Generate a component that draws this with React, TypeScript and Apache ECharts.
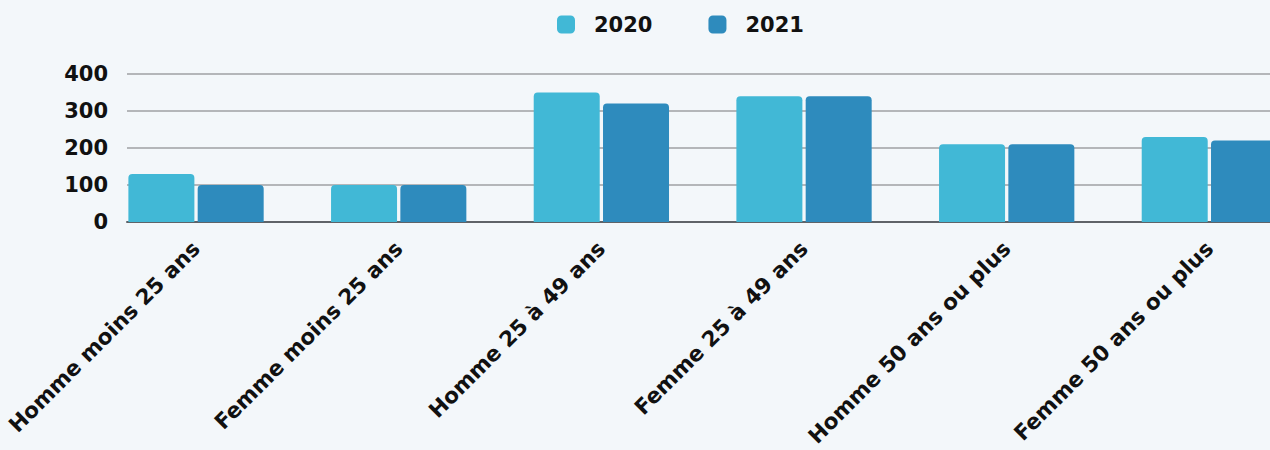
import React, { useEffect, useRef } from "react";
import * as echarts from "echarts";

const categories = [
  "Homme moins 25 ans",
  "Femme moins 25 ans",
  "Homme 25 à 49 ans",
  "Femme 25 à 49 ans",
  "Homme 50 ans ou plus",
  "Femme 50 ans ou plus",
];
const values2020 = [130, 100, 350, 340, 210, 230];
const values2021 = [100, 100, 320, 340, 210, 220];
const yTicks = [0, 100, 200, 300, 400];

const FONT = "DejaVu Sans";

export default function App() {
  const ref = useRef<HTMLDivElement>(null);
  useEffect(() => {
    if (!ref.current) return;
    const chart = echarts.init(ref.current, undefined, { renderer: "svg" });
    const top = 74;
    const bottom = 228;
    chart.setOption({
      animation: false,
      backgroundColor: "#f3f7fa",
      legend: {
        top: 9,
        left: 552,
        itemWidth: 18,
        itemHeight: 18,
        itemGap: 56,
        icon: "roundRect",
        data: ["2020", "2021"],
        textStyle: {
          fontFamily: FONT,
          fontWeight: "bold",
          fontSize: 21,
          color: "#111",
          padding: [0, 0, 0, 14],
        },
      },
      grid: [
        { left: 94.7, width: 1216, top, bottom, containLabel: false, outerBoundsMode: "none" },
        { left: 127, right: 0, top, bottom, containLabel: false, outerBoundsMode: "none" },
      ],
      xAxis: [
        {
          type: "category",
          gridIndex: 0,
          data: categories,
          axisLine: { show: false },
          axisTick: { show: false },
          axisLabel: {
            rotate: 45,
            interval: 0,
            margin: 23,
            fontFamily: FONT,
            fontWeight: "bold",
            fontSize: 21.5,
            color: "#111",
          },
        },
        {
          type: "category",
          gridIndex: 1,
          data: [""],
          axisLine: { show: true, lineStyle: { color: "#5f6368", width: 2 } },
          axisTick: { show: false },
          axisLabel: { show: false },
        },
      ],
      yAxis: [
        {
          type: "value",
          gridIndex: 0,
          min: 0,
          max: 400,
          interval: 100,
          axisLabel: { show: false },
          splitLine: { show: false },
          axisLine: { show: false },
        },
        {
          type: "value",
          gridIndex: 1,
          min: yTicks[0],
          max: yTicks[yTicks.length - 1],
          interval: 100,
          axisLine: { show: false },
          axisTick: { show: false },
          splitLine: { show: true, lineStyle: { color: "#b4b6b9", width: 2 } },
          axisLabel: {
            margin: 19,
            fontFamily: FONT,
            fontWeight: "bold",
            fontSize: 21,
            color: "#111",
          },
        },
      ],
      series: [
        {
          name: "2020",
          type: "bar",
          xAxisIndex: 0,
          yAxisIndex: 0,
          data: values2020,
          barWidth: 66,
          barGap: "5%",
          itemStyle: { color: "#41b8d6", borderRadius: [4, 4, 0, 0] },
          z: 3,
        },
        {
          name: "2021",
          type: "bar",
          xAxisIndex: 0,
          yAxisIndex: 0,
          data: values2021,
          barWidth: 66,
          barGap: "5%",
          itemStyle: { color: "#2e8bbd", borderRadius: [4, 4, 0, 0] },
          z: 3,
        },
      ],
    });
    return () => chart.dispose();
  }, []);
  return (
    <div
      ref={ref}
      style={{ position: "fixed", left: 0, top: 0, width: 1270, height: 450 }}
    />
  );
}
